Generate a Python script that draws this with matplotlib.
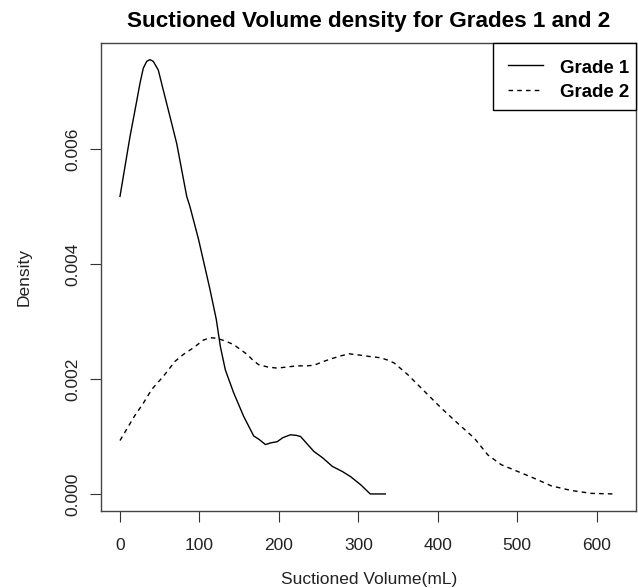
import matplotlib
matplotlib.use("Agg")
import matplotlib.pyplot as plt
from matplotlib.patches import Rectangle

plt.rcParams['font.family'] = ['Liberation Sans', 'DejaVu Sans']

# Grade 1 density curve
grade1_x = [0, 6.3, 12.6, 18.9, 25.2, 29.3, 33.6, 37.8, 41.9, 48.2, 54.5,
            62.9, 71.4, 77.7, 84, 88.1, 98.9, 112.8, 121.2, 126.3, 132.6,
            143.1, 155.7, 168.3, 175, 183.1, 190, 197.9, 205, 214.6, 222,
            227.3, 235, 244.1, 255, 267.3, 280, 290.4, 303, 315, 334]
grade1_y = [0.00518, 0.00570, 0.00622, 0.00668, 0.00715, 0.00741, 0.00753,
            0.00756, 0.00753, 0.00738, 0.00703, 0.00657, 0.00610, 0.00564,
            0.00518, 0.00500, 0.00443, 0.00359, 0.00304, 0.00257, 0.00216,
            0.00176, 0.00135, 0.00101, 0.00095, 0.00086, 0.00089, 0.00091,
            0.00098, 0.00103, 0.00102, 0.00100, 0.00088, 0.00074, 0.00063,
            0.00048, 0.00039, 0.00030, 0.00016, 0.0, 0.0]

# Grade 2 density curve
grade2_x = [0, 18, 29.4, 40, 54.7, 69.4, 79.9, 92, 105.2, 114, 122.1, 133,
            143.1, 152, 160, 168, 174.6, 186, 197.9, 210, 223.1, 235, 244.1,
            255, 265.2, 277, 288.3, 300, 315.7, 328.3, 337, 345.1, 362, 383,
            404, 425.1, 446.1, 463, 479.8, 500.9, 521.9, 543, 568.2, 593.4,
            622.8]
grade2_y = [0.00093, 0.00135, 0.00158, 0.00182, 0.00205, 0.00231, 0.00243,
            0.00254, 0.00268, 0.00272, 0.00271, 0.00266, 0.00260, 0.00251,
            0.00243, 0.00232, 0.00225, 0.00221, 0.00219, 0.00221, 0.00223,
            0.00223, 0.00224, 0.00230, 0.00235, 0.00240, 0.00244, 0.00242,
            0.00239, 0.00237, 0.00233, 0.00228, 0.00208, 0.00179, 0.00150,
            0.00123, 0.00097, 0.00068, 0.00051, 0.00039, 0.00027, 0.00014,
            0.00006, 0.00001, 0.0]

x_ticks = [0, 100, 200, 300, 400, 500, 600]
y_ticks = [0.000, 0.002, 0.004, 0.006]
y_tick_labels = ["0.000", "0.002", "0.004", "0.006"]
legend_labels = ["Grade 1", "Grade 2"]

fig = plt.figure(figsize=(6.38, 5.88), dpi=100)
ax = fig.add_axes([0.1583, 0.1315, 0.8393, 0.7949])

ax.plot(grade1_x, grade1_y, color='black', lw=1.0)
ax.plot(grade2_x, grade2_y, color='black', lw=1.0, dashes=(3.3, 3.0))

ax.set_xlim(-23.9, 650.1)
ax.set_ylim(-0.000291, 0.007845)

ax.set_xticks(x_ticks)
ax.set_yticks(y_ticks)
ax.set_yticklabels(y_tick_labels, rotation=90, va='center')
ax.tick_params(axis='both', direction='out', length=8, width=0.8,
               color='#333333', labelsize=12.5, labelcolor='#222222')
ax.tick_params(axis='x', pad=12)
ax.tick_params(axis='y', pad=7)

for sp in ax.spines.values():
    sp.set_color('#444444')
    sp.set_linewidth(1.0)

ax.set_xlabel("Suctioned Volume(mL)", fontsize=12.5, color='#222222', labelpad=13)
ax.set_ylabel("Density", fontsize=12.5, color='#222222', labelpad=24)
ax.set_title("Suctioned Volume density for Grades 1 and 2", fontsize=16.2,
             fontweight='bold', pad=12)

# legend drawn by hand, R style (box flush with the top right corner)
ax.add_patch(Rectangle((0.7315, 0.8573), 0.2685, 0.1427, transform=ax.transAxes,
                       facecolor='white', edgecolor='black', lw=1.0,
                       clip_on=False, zorder=5))
ax.plot([0.7606, 0.8259], [0.9536, 0.9536], transform=ax.transAxes,
        color='black', lw=1.0, zorder=6)
ax.plot([0.7606, 0.8259], [0.9001, 0.9001], transform=ax.transAxes,
        color='black', lw=1.0, dashes=(3.3, 3.0), zorder=6)
for lbl, yb in zip(legend_labels, [0.9358, 0.8858]):
    ax.text(0.8571, yb, lbl, transform=ax.transAxes, fontsize=13.4,
            fontweight='bold', ha='left', va='baseline', zorder=6)

fig.savefig("out.png", dpi=100)
